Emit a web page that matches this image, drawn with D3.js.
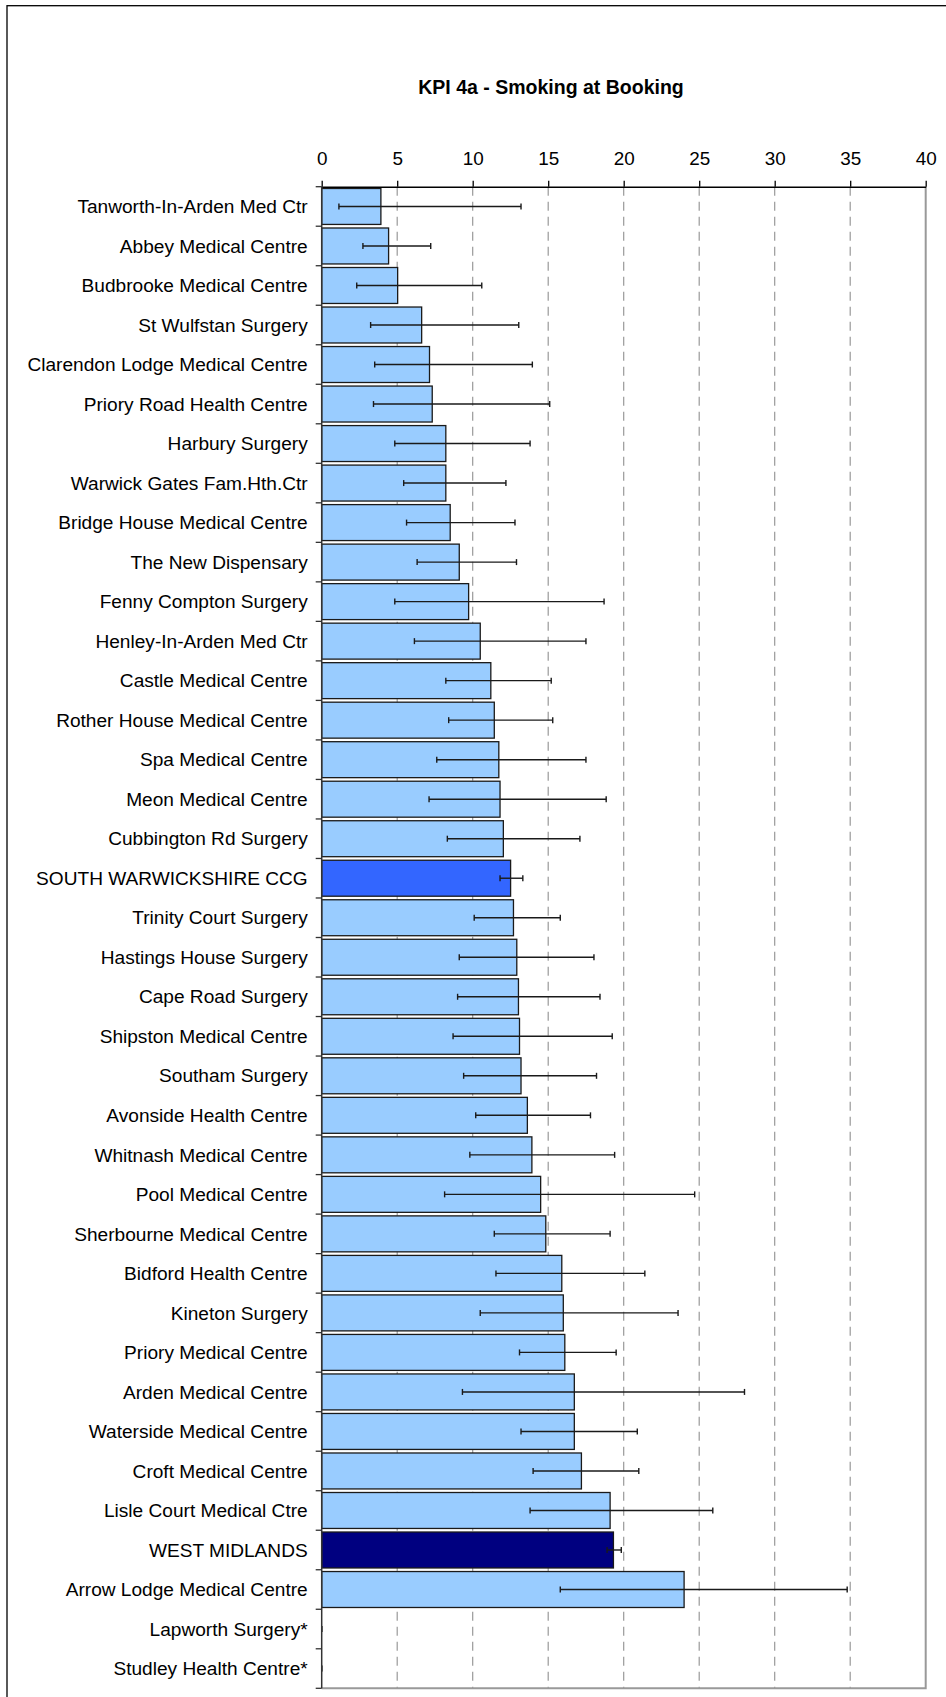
<!DOCTYPE html>
<html>
<head>
<meta charset="utf-8">
<script src="https://cdn.jsdelivr.net/npm/d3@7"></script>
<style>
  html, body { margin: 0; padding: 0; background: #fff; }
  svg { display: block; font-family: "Liberation Sans", Arial, sans-serif; }
</style>
</head>
<body>
<svg id="chart" width="946" height="1697"></svg>
<script>
const practices = [
    "Tanworth-In-Arden Med Ctr", "Abbey Medical Centre", "Budbrooke Medical Centre",
    "St Wulfstan Surgery", "Clarendon Lodge Medical Centre", "Priory Road Health Centre",
    "Harbury Surgery", "Warwick Gates Fam.Hth.Ctr", "Bridge House Medical Centre",
    "The New Dispensary", "Fenny Compton Surgery", "Henley-In-Arden Med Ctr",
    "Castle Medical Centre", "Rother House Medical Centre", "Spa Medical Centre",
    "Meon Medical Centre", "Cubbington Rd Surgery", "SOUTH WARWICKSHIRE CCG",
    "Trinity Court Surgery", "Hastings House Surgery", "Cape Road Surgery",
    "Shipston Medical Centre", "Southam Surgery", "Avonside Health Centre",
    "Whitnash Medical Centre", "Pool Medical Centre", "Sherbourne Medical Centre",
    "Bidford Health Centre", "Kineton Surgery", "Priory Medical Centre",
    "Arden Medical Centre", "Waterside Medical Centre", "Croft Medical Centre",
    "Lisle Court Medical Ctre", "WEST MIDLANDS", "Arrow Lodge Medical Centre",
    "Lapworth Surgery*", "Studley Health Centre*"
]

// % smoking at booking
const values = [
    3.92, 4.43, 5.03, 6.62, 7.14, 7.32, 8.22, 8.22, 8.51, 9.11,
    9.73, 10.5, 11.2, 11.43, 11.73, 11.81, 12.03, 12.51, 12.7, 12.92,
    13.03, 13.1, 13.2, 13.62, 13.92, 14.5, 14.84, 15.9, 16.0, 16.1,
    16.73, 16.73, 17.2, 19.1, 19.32, 24.0, 0, 0
]

// 95% confidence interval
const lower = [
    1.14, 2.73, 2.32, 3.24, 3.51, 3.43, 4.84, 5.43, 5.62, 6.32,
    4.84, 6.14, 8.22, 8.41, 7.62, 7.11, 8.32, 11.81, 10.1, 9.11,
    9.0, 8.7, 9.4, 10.2, 9.81, 8.14, 11.43, 11.54, 10.5, 13.1,
    9.32, 13.2, 14.0, 13.8, 18.9, 15.8, 0, 0
]
const upper = [
    13.2, 7.22, 10.6, 13.05, 13.95, 15.1, 13.8, 12.2, 12.8, 12.9,
    18.7, 17.5, 15.2, 15.3, 17.5, 18.84, 17.1, 13.32, 15.8, 18.03,
    18.43, 19.24, 18.2, 17.8, 19.4, 24.7, 19.1, 21.4, 23.6, 19.5,
    28.0, 20.9, 21.0, 25.9, 19.84, 34.8, 0, 0
]

const xTicks = [0, 5, 10, 15, 20, 25, 30, 35, 40]

const highlight = {
    "SOUTH WARWICKSHIRE CCG": "#3366FF",
    "WEST MIDLANDS": "#000080"
}

const rows = practices.map((p, i) => ({ name: p, value: values[i], lo: lower[i], hi: upper[i] }))

const svg = d3.select("#chart")
const plotL = 321.7, plotR = 925.7, plotT = 186.7, plotB = 1688.3

// outer frame (cropped on the right and bottom)
svg.append("rect")
    .attr("x", 7).attr("y", 5.7)
    .attr("width", 1100).attr("height", 1800)
    .attr("fill", "#fff").attr("stroke", "#000").attr("stroke-width", 1.3)

svg.append("text")
    .attr("x", 551).attr("y", 94)
    .attr("text-anchor", "middle")
    .attr("font-size", 19.5).attr("font-weight", "bold")
    .text("KPI 4a - Smoking at Booking")

const x = d3.scaleLinear().domain([0, 40]).range([plotL, plotR])
const y = d3.scaleBand().domain(practices).range([plotT, plotB])
    .paddingInner(0.09).paddingOuter(0.045)

// gridlines
svg.append("g")
    .selectAll("line")
    .data(xTicks.slice(1, -1))
    .join("line")
    .attr("x1", d => x(d)).attr("x2", d => x(d))
    .attr("y1", plotT).attr("y2", plotB)
    .attr("stroke", "#999").attr("stroke-width", 1.2)
    .attr("stroke-dasharray", "9,6")

// plot area border right + bottom
svg.append("path")
    .attr("d", `M${plotR},${plotT}V${plotB}H${plotL}`)
    .attr("fill", "none").attr("stroke", "#999").attr("stroke-width", 2)

// bars
svg.append("g")
    .selectAll("rect")
    .data(rows.filter(d => d.value > 0))
    .join("rect")
    .attr("x", x(0))
    .attr("y", d => y(d.name))
    .attr("width", d => x(d.value) - x(0))
    .attr("height", y.bandwidth())
    .attr("fill", d => highlight[d.name] || "#99CCFF")
    .attr("stroke", "#1a1a1a").attr("stroke-width", 1.3)

// error bars
const err = svg.append("g").attr("stroke", "#1a1a1a").attr("stroke-width", 1.4)
rows.forEach(d => {
    const cy = y(d.name) + y.bandwidth() / 2
    err.append("line").attr("x1", x(d.lo)).attr("x2", x(d.hi)).attr("y1", cy).attr("y2", cy)
    err.append("line").attr("x1", x(d.lo)).attr("x2", x(d.lo)).attr("y1", cy - 3).attr("y2", cy + 3)
    err.append("line").attr("x1", x(d.hi)).attr("x2", x(d.hi)).attr("y1", cy - 3).attr("y2", cy + 3)
})

// category axis: line, ticks at band boundaries, labels
const step = y.step()
const bounds = d3.range(practices.length + 1).map(i => plotT + i * step)
svg.append("line")
    .attr("x1", plotL).attr("x2", plotL).attr("y1", plotT).attr("y2", plotB)
    .attr("stroke", "#333").attr("stroke-width", 1.5)
svg.append("g")
    .selectAll("line")
    .data(bounds)
    .join("line")
    .attr("x1", plotL - 6).attr("x2", plotL)
    .attr("y1", d => d).attr("y2", d => d)
    .attr("stroke", "#333").attr("stroke-width", 1.3)
svg.append("g")
    .selectAll("text")
    .data(practices)
    .join("text")
    .attr("x", plotL - 14)
    .attr("y", d => y(d) + y.bandwidth() / 2)
    .attr("dy", "0.35em")
    .attr("text-anchor", "end")
    .attr("font-size", 19.1)
    .attr("fill", "#000")
    .text(d => d)

// value axis on top
const xAxis = svg.append("g")
    .attr("transform", `translate(0,${plotT})`)
    .call(d3.axisTop(x).tickValues(xTicks).tickSize(6).tickPadding(15.5).tickSizeOuter(0))
xAxis.select(".domain").attr("stroke", "#000").attr("stroke-width", 1.5)
xAxis.selectAll(".tick line").attr("stroke", "#000").attr("stroke-width", 1.3)
xAxis.selectAll(".tick text")
    .attr("font-size", 18.9)
    .attr("font-family", "Liberation Sans, Arial, sans-serif")
    .attr("fill", "#000")
</script>
</body>
</html>
